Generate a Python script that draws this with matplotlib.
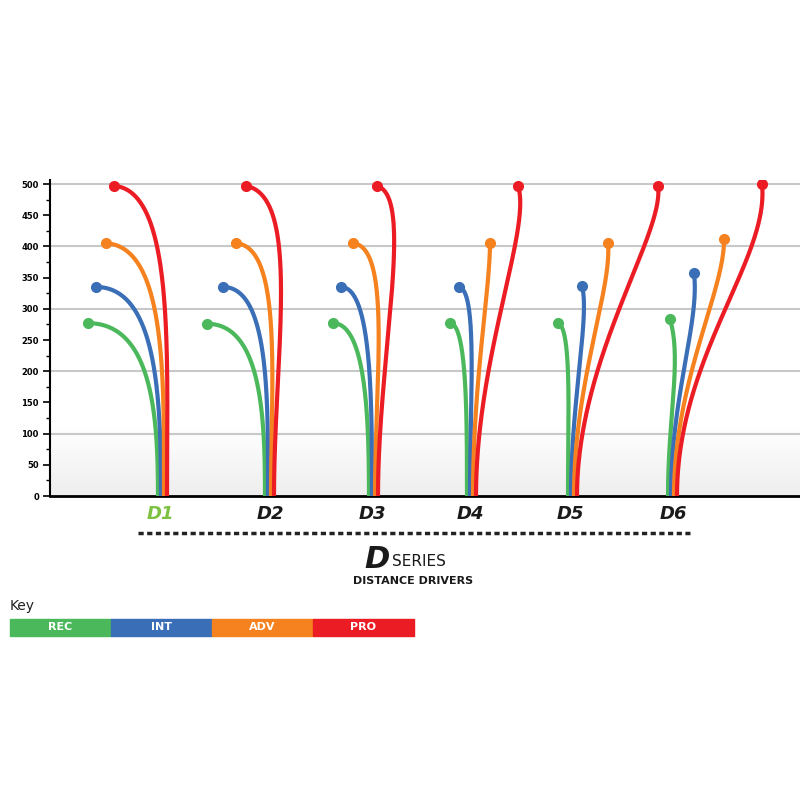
import numpy as np
import matplotlib
matplotlib.use("Agg")
import matplotlib.pyplot as plt
from matplotlib.patches import Rectangle
from matplotlib.lines import Line2D

discs = ["D1", "D2", "D3", "D4", "D5", "D6"]
levels = ["REC", "INT", "ADV", "PRO"]
colors = ["#4CB85C", "#3A6FB7", "#F5821F", "#EC1C24"]
# lateral positions (horizontal units) and distances (ft)
base_x = [[158, 161, 164, 167], [265, 268, 271, 274], [369, 372, 375, 378],
          [467, 470, 473, 476], [568, 571, 574, 577], [668, 671, 674, 677]]
end_x = [[88, 96, 106, 114], [207, 223, 236, 246], [333, 341, 353, 377],
         [450, 459, 490, 518], [558, 582, 608, 658], [670, 694, 724, 762]]
dist = [[277, 335, 405, 497], [276, 335, 405, 497], [277, 335, 405, 497],
        [277, 335, 405, 497], [277, 336, 405, 497], [283, 357, 412, 500]]
ctrl_x = [[153, 158, 167, 175], [262, 270, 283, 302], [366, 372, 392, 415],
          [467, 478, 490, 532], [572, 590, 612, 665], [682, 700, 725, 770]]
ctrl_y = [[277, 335, 400, 490], [276, 335, 400, 480], [277, 335, 400, 480],
          [277, 330, 330, 430], [270, 290, 330, 420], [220, 280, 330, 380]]

fig = plt.figure(figsize=(8, 8), dpi=100)
ax = fig.add_axes([0.0625, 0.38, 0.9375, 0.395])
ax.set_xlim(50, 800)
ax.set_ylim(0, 500 * 316 / 312)

# background gradient at bottom
grad = np.linspace(0, 1, 100).reshape(-1, 1)
ax.imshow(grad, extent=[50, 800, 0, 110], origin="lower", aspect="auto",
          cmap=matplotlib.colors.LinearSegmentedColormap.from_list("g", ["#EEEEEE", "#FFFFFF"]), zorder=0)
for g in [100, 200, 300, 400, 500]:
    ax.axhline(g, color="#C8C8C8", lw=1.5, zorder=1)

t = np.linspace(0, 1, 200)[:, None]
for i in range(len(discs)):
    for j in range(len(levels)):
        d = dist[i][j]
        P0 = np.array([base_x[i][j], 0]); P1 = np.array([base_x[i][j], d * 0.45])
        P2 = np.array([ctrl_x[i][j], ctrl_y[i][j]]); P3 = np.array([end_x[i][j], d])
        B = (1 - t) ** 3 * P0 + 3 * (1 - t) ** 2 * t * P1 + 3 * (1 - t) * t ** 2 * P2 + t ** 3 * P3
        ax.plot(B[:, 0], B[:, 1], color=colors[j], lw=3, solid_capstyle="butt", zorder=3 + j)
        ax.plot(end_x[i][j], d, "o", color=colors[j], ms=7, zorder=3 + j)

ax.spines[["top", "right"]].set_visible(False)
ax.spines["left"].set_linewidth(1.5)
ax.spines["bottom"].set_linewidth(2)
ax.set_yticks(range(0, 501, 50))
ax.set_yticks(range(0, 501, 25), minor=True)
ax.set_yticklabels([str(v) for v in range(0, 501, 50)], fontsize=6, fontweight="bold")
ax.tick_params(axis="y", length=5, width=1.2, pad=3)
ax.tick_params(axis="y", which="minor", length=3, width=1)
ax.set_xticks([])

label_x = [160, 270, 372, 470, 570, 673]
for k, name in enumerate(discs):
    fig.text(label_x[k] / 800, 1 - 514 / 800, name, ha="center", va="center", fontsize=13,
             fontweight="heavy", style="italic", color="#7DC142" if k == 0 else "#1A1A1A")
fig.add_artist(Line2D([138 / 800, 690 / 800], [1 - 533 / 800] * 2, color="#222222", lw=2.5,
                      linestyle=(0, (1.5, 1))))
fig.text(390 / 800, 1 - 560 / 800, "D", ha="right", va="center", fontsize=22, fontweight="heavy",
         style="italic", color="#1A1A1A")
fig.text(392 / 800, 1 - 562 / 800, "SERIES", ha="left", va="center", fontsize=11, color="#1A1A1A")
fig.text(413 / 800, 1 - 581 / 800, "DISTANCE DRIVERS", ha="center", va="center", fontsize=8,
         fontweight="bold", color="#1A1A1A")
fig.text(10 / 800, 1 - 606 / 800, "Key", ha="left", va="center", fontsize=10, color="#222222")
for j, lv in enumerate(levels):
    x0 = (10 + j * 101) / 800
    fig.add_artist(Rectangle((x0, 1 - 636 / 800), 101 / 800, 17 / 800, transform=fig.transFigure,
                             color=colors[j]))
    fig.text(x0 + 50 / 800, 1 - 627.5 / 800, lv, ha="center", va="center", fontsize=8,
             fontweight="bold", color="white")

fig.savefig("out.png", dpi=100)
